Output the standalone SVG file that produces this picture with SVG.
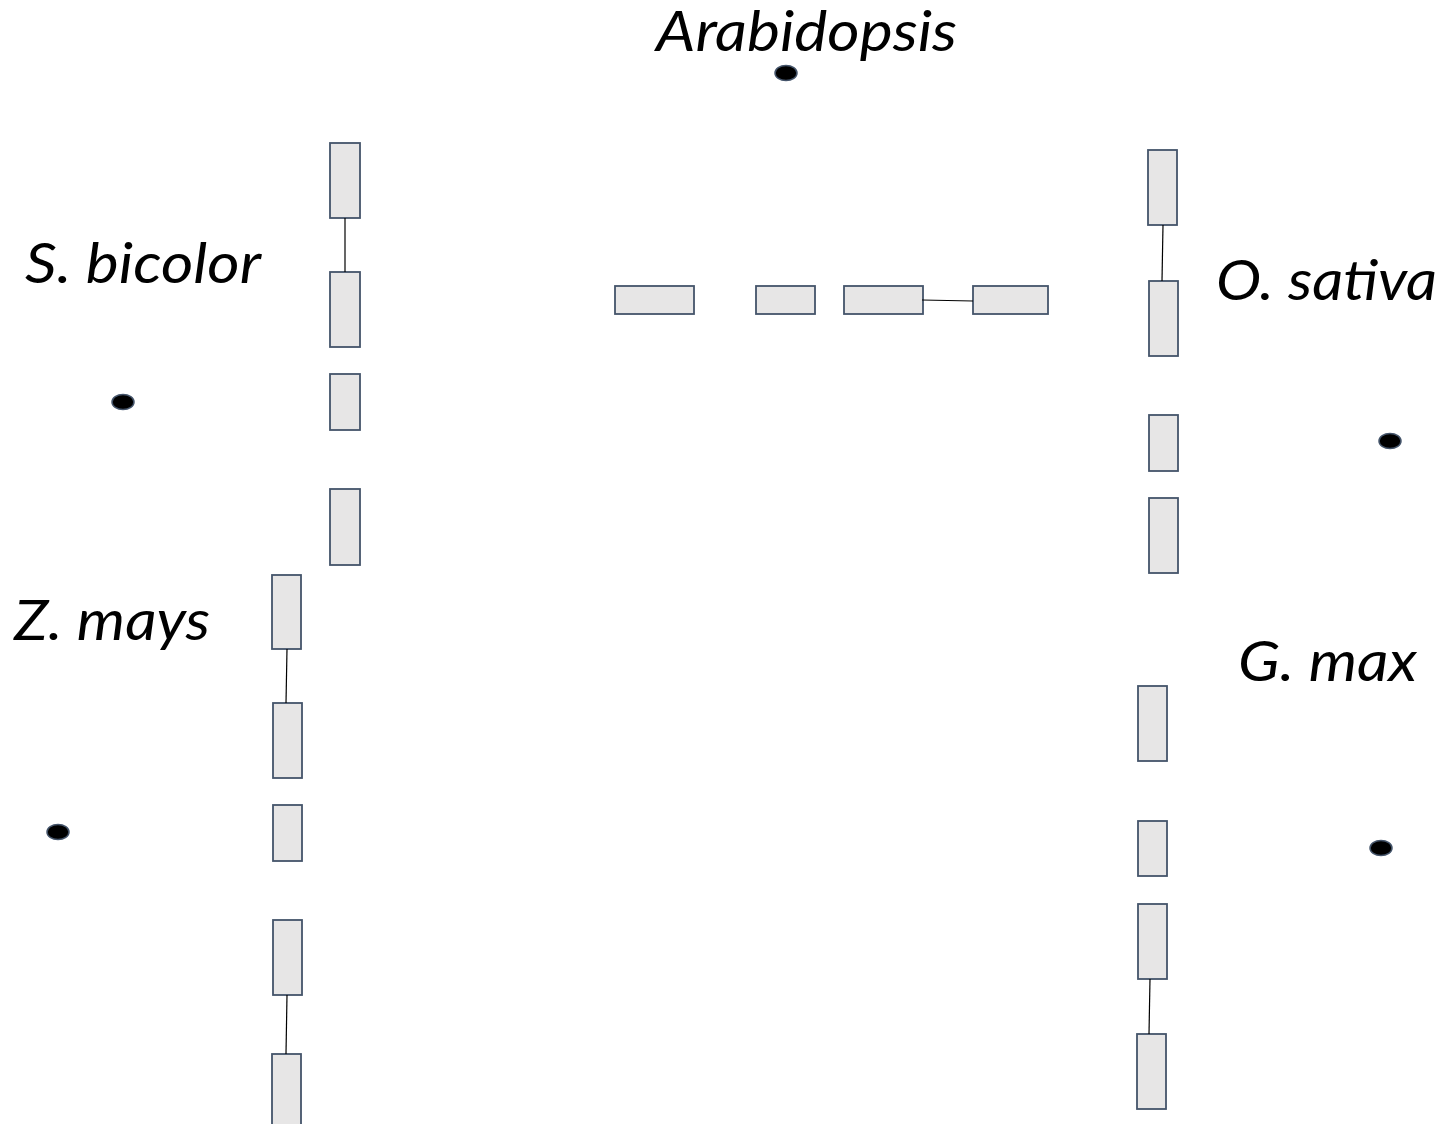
<svg xmlns="http://www.w3.org/2000/svg" width="1447" height="1124" viewBox="0 0 1447 1124">
<style>
.g{fill:#E7E6E6;stroke:#44546A;stroke-width:1.8}
.d{fill:#000;stroke:#44546A;stroke-width:1.5}
.c{stroke:#000;stroke-width:1.2;fill:none}
.t{font-family:Lato,"Open Sans","Liberation Sans",sans-serif;font-style:italic;font-size:56px;fill:#000}
</style>
<rect width="1447" height="1124" fill="#fff"/>
<g id="arabidopsis">
<text class="t" x="656" y="51" font-size="55" textLength="301" lengthAdjust="spacingAndGlyphs">Arabidopsis</text>
<ellipse class="d" cx="786" cy="73" rx="11" ry="7.5"/>
<rect class="g" x="615" y="286" width="79" height="28"/>
<rect class="g" x="756" y="286" width="59" height="28"/>
<rect class="g" x="844" y="286" width="79" height="28"/>
<rect class="g" x="973" y="286" width="75" height="28"/>
</g>
<g id="sbicolor">
<text class="t" x="25" y="283" textLength="236" lengthAdjust="spacingAndGlyphs">S. bicolor</text>
<ellipse class="d" cx="123" cy="402" rx="11" ry="7.5"/>
<rect class="g" x="330" y="143" width="30" height="75"/>
<rect class="g" x="330" y="272" width="30" height="75"/>
<rect class="g" x="330" y="374" width="30" height="56"/>
<rect class="g" x="330" y="489" width="30" height="76"/>
</g>
<g id="zmays">
<text class="t" x="14" y="640" textLength="196" lengthAdjust="spacingAndGlyphs">Z. mays</text>
<ellipse class="d" cx="58" cy="832" rx="11" ry="7.5"/>
<rect class="g" x="272" y="575" width="29" height="74"/>
<rect class="g" x="273" y="703" width="29" height="75"/>
<rect class="g" x="273" y="805" width="29" height="56"/>
<rect class="g" x="273" y="920" width="29" height="75"/>
<rect class="g" x="272" y="1054" width="29" height="75"/>
</g>
<g id="osativa">
<text class="t" x="1216" y="300" textLength="221" lengthAdjust="spacingAndGlyphs">O. sativa</text>
<ellipse class="d" cx="1390" cy="441" rx="11" ry="7.5"/>
<rect class="g" x="1148" y="150" width="29" height="75"/>
<rect class="g" x="1149" y="281" width="29" height="75"/>
<rect class="g" x="1149" y="415" width="29" height="56"/>
<rect class="g" x="1149" y="498" width="29" height="75"/>
</g>
<g id="gmax">
<text class="t" x="1238" y="681" textLength="179" lengthAdjust="spacingAndGlyphs">G. max</text>
<ellipse class="d" cx="1381" cy="848" rx="11" ry="7.5"/>
<rect class="g" x="1138" y="686" width="29" height="75"/>
<rect class="g" x="1138" y="821" width="29" height="55"/>
<rect class="g" x="1138" y="904" width="29" height="75"/>
<rect class="g" x="1137" y="1034" width="29" height="75"/>
</g>
<g id="connectors">
<line class="c" x1="922" y1="300" x2="973" y2="301"/>
<line class="c" x1="345" y1="218" x2="345" y2="272"/>
<line class="c" x1="287" y1="649" x2="286" y2="703"/>
<line class="c" x1="287" y1="995" x2="286" y2="1054"/>
<line class="c" x1="1163" y1="225" x2="1162" y2="281"/>
<line class="c" x1="1150" y1="979" x2="1149" y2="1034"/>
</g>
</svg>
